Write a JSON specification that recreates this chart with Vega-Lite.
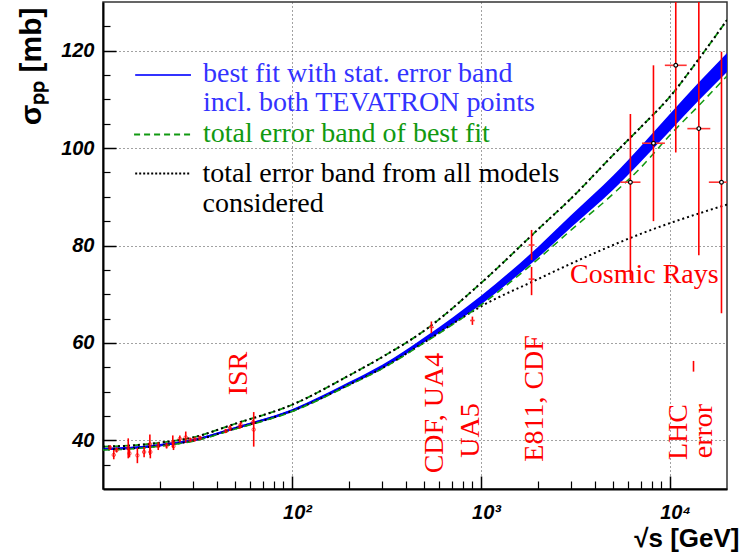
{
  "$schema": "https://vega.github.io/schema/vega-lite/v6.json",
  "width": 624,
  "height": 487,
  "autosize": {"type": "none"},
  "padding": {"left": 103, "top": 2, "right": 15, "bottom": 70},
  "background": "#ffffff",
  "config": {
    "view": {"stroke": "#333333", "strokeWidth": 1.5},
    "axis": {"labelColor": "#000000", "titleColor": "#000000", "tickColor": "#000000"}
  },
  "resolve": {"axis": {"x": "independent", "y": "independent"}},
  "datasets": {
    "curves": [
      {"s": 10, "fit": 38.2, "fit_lo": 37.95, "fit_hi": 38.45, "tot_lo": 38.0, "tot_hi": 38.7, "mod_lo": 38.1, "mod_hi": 38.7},
      {"s": 15, "fit": 38.5, "fit_lo": 38.25, "fit_hi": 38.75, "tot_lo": 38.3, "tot_hi": 39.0, "mod_lo": 38.4, "mod_hi": 39.0},
      {"s": 20, "fit": 39.0, "fit_lo": 38.75, "fit_hi": 39.25, "tot_lo": 38.8, "tot_hi": 39.5, "mod_lo": 38.9, "mod_hi": 39.5},
      {"s": 30, "fit": 40.0, "fit_lo": 39.75, "fit_hi": 40.25, "tot_lo": 39.8, "tot_hi": 40.6, "mod_lo": 39.9, "mod_hi": 40.6},
      {"s": 50, "fit": 42.5, "fit_lo": 42.25, "fit_hi": 42.75, "tot_lo": 42.3, "tot_hi": 43.4, "mod_lo": 42.4, "mod_hi": 43.4},
      {"s": 100, "fit": 46.1, "fit_lo": 45.8, "fit_hi": 46.4, "tot_lo": 45.9, "tot_hi": 47.3, "mod_lo": 46.0, "mod_hi": 47.3},
      {"s": 200, "fit": 51.6, "fit_lo": 51.25, "fit_hi": 51.95, "tot_lo": 51.3, "tot_hi": 53.3, "mod_lo": 51.4, "mod_hi": 53.3},
      {"s": 300, "fit": 55.1, "fit_lo": 54.7, "fit_hi": 55.5, "tot_lo": 54.7, "tot_hi": 57.1, "mod_lo": 54.8, "mod_hi": 57.1},
      {"s": 500, "fit": 60.6, "fit_lo": 60.1, "fit_hi": 61.1, "tot_lo": 60.0, "tot_hi": 62.5, "mod_lo": 60.1, "mod_hi": 62.5},
      {"s": 1000, "fit": 68.8, "fit_lo": 67.9, "fit_hi": 69.7, "tot_lo": 67.8, "tot_hi": 72.3, "mod_lo": 67.5, "mod_hi": 72.3},
      {"s": 2000, "fit": 78.6, "fit_lo": 77.5, "fit_hi": 79.7, "tot_lo": 77.2, "tot_hi": 83.3, "mod_lo": 73.1, "mod_hi": 83.3},
      {"s": 3000, "fit": 85.0, "fit_lo": 83.75, "fit_hi": 86.25, "tot_lo": 83.2, "tot_hi": 89.7, "mod_lo": 76.3, "mod_hi": 89.7},
      {"s": 5000, "fit": 92.9, "fit_lo": 91.45, "fit_hi": 94.35, "tot_lo": 90.6, "tot_hi": 98.6, "mod_lo": 80.1, "mod_hi": 98.6},
      {"s": 7000, "fit": 98.8, "fit_lo": 97.2, "fit_hi": 100.4, "tot_lo": 96.0, "tot_hi": 104.3, "mod_lo": 82.4, "mod_hi": 104.3},
      {"s": 10000, "fit": 105.3, "fit_lo": 103.55, "fit_hi": 107.05, "tot_lo": 102.7, "tot_hi": 110.6, "mod_lo": 84.6, "mod_hi": 110.6},
      {"s": 14000, "fit": 111.4, "fit_lo": 109.55, "fit_hi": 113.25, "tot_lo": 108.5, "tot_hi": 118.0, "mod_lo": 86.5, "mod_hi": 118.0},
      {"s": 20000, "fit": 117.6, "fit_lo": 115.65, "fit_hi": 119.55, "tot_lo": 114.8, "tot_hi": 126.3, "mod_lo": 88.4, "mod_hi": 126.3}
    ],
    "pts": [
      {"s": 10.9, "sig": 38.5, "lo": 38.0, "hi": 39.0, "grp": "ISR"},
      {"s": 11.4, "sig": 37.0, "lo": 36.1, "hi": 38.0, "grp": "ISR"},
      {"s": 11.8, "sig": 38.0, "lo": 37.5, "hi": 38.5, "grp": "ISR"},
      {"s": 13.6, "sig": 38.4, "lo": 36.3, "hi": 40.4, "grp": "ISR"},
      {"s": 13.8, "sig": 37.3, "lo": 36.5, "hi": 38.2, "grp": "ISR"},
      {"s": 15.2, "sig": 36.9, "lo": 35.3, "hi": 38.4, "grp": "ISR"},
      {"s": 16.5, "sig": 37.6, "lo": 36.5, "hi": 38.6, "grp": "ISR"},
      {"s": 17.7, "sig": 39.2, "lo": 37.0, "hi": 41.2, "grp": "ISR"},
      {"s": 17.8, "sig": 37.6, "lo": 36.3, "hi": 38.9, "grp": "ISR"},
      {"s": 19.6, "sig": 38.8, "lo": 38.0, "hi": 39.6, "grp": "ISR"},
      {"s": 21.7, "sig": 38.9, "lo": 38.3, "hi": 39.5, "grp": "ISR"},
      {"s": 23.4, "sig": 39.6, "lo": 38.5, "hi": 41.0, "grp": "ISR"},
      {"s": 23.6, "sig": 38.8, "lo": 38.0, "hi": 39.6, "grp": "ISR"},
      {"s": 25.5, "sig": 40.3, "lo": 39.6, "hi": 41.0, "grp": "ISR"},
      {"s": 27.4, "sig": 40.6, "lo": 39.5, "hi": 41.8, "grp": "ISR"},
      {"s": 29.0, "sig": 40.1, "lo": 39.7, "hi": 40.5, "grp": "ISR"},
      {"s": 30.6, "sig": 40.2, "lo": 39.8, "hi": 40.6, "grp": "ISR"},
      {"s": 32.6, "sig": 40.5, "lo": 40.1, "hi": 40.9, "grp": "ISR"},
      {"s": 44.6, "sig": 41.9, "lo": 41.5, "hi": 42.3, "grp": "ISR"},
      {"s": 47.0, "sig": 42.5, "lo": 41.9, "hi": 43.1, "grp": "ISR"},
      {"s": 52.8, "sig": 42.8, "lo": 42.4, "hi": 43.2, "grp": "ISR"},
      {"s": 53.5, "sig": 43.2, "lo": 42.6, "hi": 43.8, "grp": "ISR"},
      {"s": 62.3, "sig": 43.7, "lo": 43.2, "hi": 44.2, "grp": "ISR"},
      {"s": 62.7, "sig": 42.2, "lo": 38.7, "hi": 45.8, "grp": "ISR"},
      {"s": 546, "sig": 63.2, "lo": 62.0, "hi": 64.4, "slo": 530, "shi": 562, "grp": "coll"},
      {"s": 900, "sig": 64.6, "lo": 63.7, "hi": 65.4, "slo": 875, "shi": 925, "grp": "coll"},
      {"s": 1850, "sig": 80.1, "lo": 77.0, "hi": 83.2, "slo": 1785, "shi": 1917, "grp": "coll"},
      {"s": 1850, "sig": 73.1, "lo": 69.8, "hi": 75.6, "slo": 1785, "shi": 1917, "grp": "coll"},
      {"s": 6166, "sig": 93.0, "lo": 72.9, "hi": 107.0, "slo": 5455, "shi": 6970, "grp": "cr"},
      {"s": 8166, "sig": 101.0, "lo": 85.0, "hi": 117.0, "slo": 7100, "shi": 9390, "grp": "cr"},
      {"s": 10715, "sig": 117.0, "lo": 99.1, "hi": 140.0, "slo": 9380, "shi": 12240, "grp": "cr"},
      {"s": 14190, "sig": 104.0, "lo": 78.0, "hi": 140.0, "slo": 12340, "shi": 16320, "grp": "cr"},
      {"s": 18700, "sig": 93.0, "lo": 66.1, "hi": 119.8, "slo": 16030, "shi": 21800, "grp": "cr"},
      {"s": 13300, "lo": 54.1, "hi": 56.3, "grp": "lhc"}
    ],
    "vlabels": [
      {"s": 57.8, "sig": 53.7, "text": "ISR"},
      {"s": 629, "sig": 45.6, "text": "CDF, UA4"},
      {"s": 973, "sig": 42.0, "text": "UA5"},
      {"s": 2128, "sig": 48.6, "text": "E811, CDF"},
      {"s": 12330, "sig": 41.7, "text": "LHC"},
      {"s": 16580, "sig": 41.9, "text": "error"}
    ],
    "hlabels": [
      {"s": 7310, "sig": 72.2, "text": "Cosmic Rays"}
    ],
    "legline": [
      {"s": 14.8, "s2": 29.2, "sig": 115.0, "series": "fit"},
      {"s": 14.6, "s2": 29.2, "sig": 102.8, "series": "total"},
      {"s": 14.8, "s2": 29.2, "sig": 94.8, "series": "models"}
    ],
    "legtext": [
      {"s": 33.8, "sig": 113.5, "text": "best fit with stat. error band", "series": "fit"},
      {"s": 33.8, "sig": 107.7, "text": "incl. both TEVATRON points", "series": "fit"},
      {"s": 33.8, "sig": 101.3, "text": "total error band of best fit", "series": "total"},
      {"s": 33.6, "sig": 93.1, "text": "total error band from all models", "series": "models"},
      {"s": 33.6, "sig": 86.9, "text": "considered", "series": "models"}
    ]
  },
  "layer": [
    {
      "data": {"name": "curves"},
      "mark": {"type": "area", "color": "#0000ff", "interpolate": "monotone", "clip": true},
      "encoding": {
        "x": {
          "field": "s", "type": "quantitative",
          "scale": {"type": "log", "domain": [10, 20000], "nice": false},
          "axis": {
            "orient": "bottom", "values": [100, 1000, 10000],
            "labelExpr": "datum.value == 100 ? '10²' : datum.value == 1000 ? '10³' : '10⁴'",
            "ticks": false, "grid": true, "gridDash": [1, 3], "gridColor": "#444444", "gridWidth": 1,
            "domain": true, "domainColor": "#000000", "domainWidth": 2,
            "labelFont": "Liberation Sans", "labelFontWeight": "bold", "labelFontStyle": "italic",
            "labelFontSize": 20, "labelPadding": 13, "labelOffset": 5,
            "title": "√s [GeV]", "titleFont": "Liberation Sans", "titleFontWeight": "bold", "titleFontSize": 26,
            "titleAlign": "right", "titleAnchor": "end", "titleX": 636, "titleY": 57, "titleBaseline": "alphabetic"
          }
        },
        "y": {
          "field": "fit_lo", "type": "quantitative",
          "scale": {"domain": [30, 130], "nice": false, "zero": false},
          "axis": {
            "orient": "left", "values": [40, 60, 80, 100, 120],
            "ticks": false, "grid": true, "gridDash": [1, 3], "gridColor": "#444444", "gridWidth": 1,
            "domain": true, "domainColor": "#000000", "domainWidth": 2,
            "labelFont": "Liberation Sans", "labelFontWeight": "bold", "labelFontStyle": "italic",
            "labelFontSize": 20, "labelPadding": 9,
            "title": "σₚₚ [mb]", "titleFont": "Liberation Sans", "titleFontWeight": "bold", "titleFontSize": 30,
            "titleAngle": 270, "titleAlign": "right", "titleAnchor": "end", "titleX": -63, "titleY": 5, "titleBaseline": "alphabetic"
          }
        },
        "y2": {"field": "fit_hi"}
      }
    },
    {
      "data": {"name": "curves"},
      "mark": {"type": "line", "color": "#0000ff", "strokeWidth": 2, "interpolate": "monotone", "clip": true},
      "encoding": {
        "x": {"field": "s", "type": "quantitative",
          "axis": {"orient": "bottom", "values": [100, 1000, 10000], "ticks": true, "tickSize": -13, "tickWidth": 1.5,
            "labels": false, "grid": false, "domain": false, "title": null}},
        "y": {"field": "fit", "type": "quantitative",
          "axis": {"orient": "left", "values": [40, 60, 80, 100, 120], "ticks": true, "tickSize": -13, "tickWidth": 1.5,
            "labels": false, "grid": false, "domain": false, "title": null}}
      }
    },
    {
      "data": {"name": "curves"},
      "mark": {"type": "line", "color": "#000000", "strokeWidth": 2, "strokeDash": [2, 3], "interpolate": "monotone", "clip": true},
      "encoding": {
        "x": {"field": "s", "type": "quantitative",
          "axis": {"orient": "bottom", "values": [20, 30, 40, 50, 60, 70, 80, 90, 200, 300, 400, 500, 600, 700, 800, 900, 2000, 3000, 4000, 5000, 6000, 7000, 8000, 9000],
            "ticks": true, "tickSize": -8, "tickWidth": 1.2, "labels": false, "grid": false, "domain": false, "title": null}},
        "y": {"field": "mod_lo", "type": "quantitative",
          "axis": {"orient": "left", "values": [35, 45, 50, 55, 65, 70, 75, 85, 90, 95, 105, 110, 115, 125],
            "ticks": true, "tickSize": -7, "tickWidth": 1.2, "labels": false, "grid": false, "domain": false, "title": null}}
      }
    },
    {
      "data": {"name": "curves"},
      "mark": {"type": "line", "color": "#119911", "strokeWidth": 1.5, "strokeDash": [7, 5], "interpolate": "monotone", "clip": true},
      "encoding": {
        "x": {"field": "s", "type": "quantitative", "axis": null},
        "y": {"field": "tot_lo", "type": "quantitative", "axis": null}
      }
    },
    {
      "data": {"name": "curves"},
      "mark": {"type": "line", "color": "#119911", "strokeWidth": 1.8, "strokeDash": [6, 4], "interpolate": "monotone", "clip": true},
      "encoding": {
        "x": {"field": "s", "type": "quantitative", "axis": null},
        "y": {"field": "tot_hi", "type": "quantitative", "axis": null}
      }
    },
    {
      "data": {"name": "curves"},
      "mark": {"type": "line", "color": "#000000", "strokeWidth": 2, "strokeDash": [2, 3], "interpolate": "monotone", "clip": true},
      "encoding": {
        "x": {"field": "s", "type": "quantitative", "axis": null},
        "y": {"field": "mod_hi", "type": "quantitative", "axis": null}
      }
    },
    {
      "data": {"name": "pts"},
      "mark": {"type": "rule", "color": "#ff0000", "strokeWidth": 1.6, "clip": true},
      "encoding": {
        "x": {"field": "s", "type": "quantitative", "axis": null},
        "y": {"field": "lo", "type": "quantitative", "axis": null},
        "y2": {"field": "hi"}
      }
    },
    {
      "data": {"name": "pts"},
      "transform": [{"filter": "isValid(datum.slo)"}],
      "mark": {"type": "rule", "color": "#ff3333", "strokeWidth": 1.6, "clip": true},
      "encoding": {
        "x": {"field": "slo", "type": "quantitative", "axis": null},
        "x2": {"field": "shi"},
        "y": {"field": "sig", "type": "quantitative", "axis": null}
      }
    },
    {
      "data": {"name": "pts"},
      "transform": [{"filter": "datum.grp == 'ISR'"}],
      "mark": {"type": "point", "shape": "circle", "filled": false, "color": "#ff0000", "size": 12, "strokeWidth": 1, "clip": true},
      "encoding": {
        "x": {"field": "s", "type": "quantitative", "axis": null},
        "y": {"field": "sig", "type": "quantitative", "axis": null}
      }
    },
    {
      "data": {"name": "pts"},
      "transform": [{"filter": "datum.grp == 'cr'"}],
      "mark": {"type": "point", "shape": "circle", "filled": true, "fill": "#ffffff", "stroke": "#000000", "size": 14, "strokeWidth": 1.2, "opacity": 1, "clip": true},
      "encoding": {
        "x": {"field": "s", "type": "quantitative", "axis": null},
        "y": {"field": "sig", "type": "quantitative", "axis": null}
      }
    },
    {
      "data": {"name": "vlabels"},
      "mark": {"type": "text", "angle": 270, "align": "center", "baseline": "alphabetic", "font": "Liberation Serif", "fontSize": 28, "color": "#ff0000"},
      "encoding": {
        "x": {"field": "s", "type": "quantitative", "axis": null},
        "y": {"field": "sig", "type": "quantitative", "axis": null},
        "text": {"field": "text"}
      }
    },
    {
      "data": {"name": "hlabels"},
      "mark": {"type": "text", "align": "center", "baseline": "alphabetic", "font": "Liberation Serif", "fontSize": 28, "color": "#ff0000"},
      "encoding": {
        "x": {"field": "s", "type": "quantitative", "axis": null},
        "y": {"field": "sig", "type": "quantitative", "axis": null},
        "text": {"field": "text"}
      }
    },
    {
      "data": {"name": "legline"},
      "mark": {"type": "rule", "strokeWidth": 2},
      "encoding": {
        "x": {"field": "s", "type": "quantitative", "axis": null},
        "x2": {"field": "s2"},
        "y": {"field": "sig", "type": "quantitative", "axis": null},
        "color": {"field": "series", "type": "nominal", "scale": {"domain": ["fit", "total", "models"], "range": ["#3333ff", "#119911", "#000000"]}, "legend": null},
        "strokeDash": {"field": "series", "type": "nominal", "scale": {"domain": ["fit", "total", "models"], "range": [[1, 0], [6, 4], [2, 2]]}, "legend": null}
      }
    },
    {
      "data": {"name": "legtext"},
      "mark": {"type": "text", "align": "left", "baseline": "alphabetic", "font": "Liberation Serif", "fontSize": 28},
      "encoding": {
        "x": {"field": "s", "type": "quantitative", "axis": null},
        "y": {"field": "sig", "type": "quantitative", "axis": null},
        "text": {"field": "text"},
        "color": {"field": "series", "type": "nominal", "scale": {"domain": ["fit", "total", "models"], "range": ["#1010ff", "#119911", "#000000"]}, "legend": null}
      }
    }
  ]
}
